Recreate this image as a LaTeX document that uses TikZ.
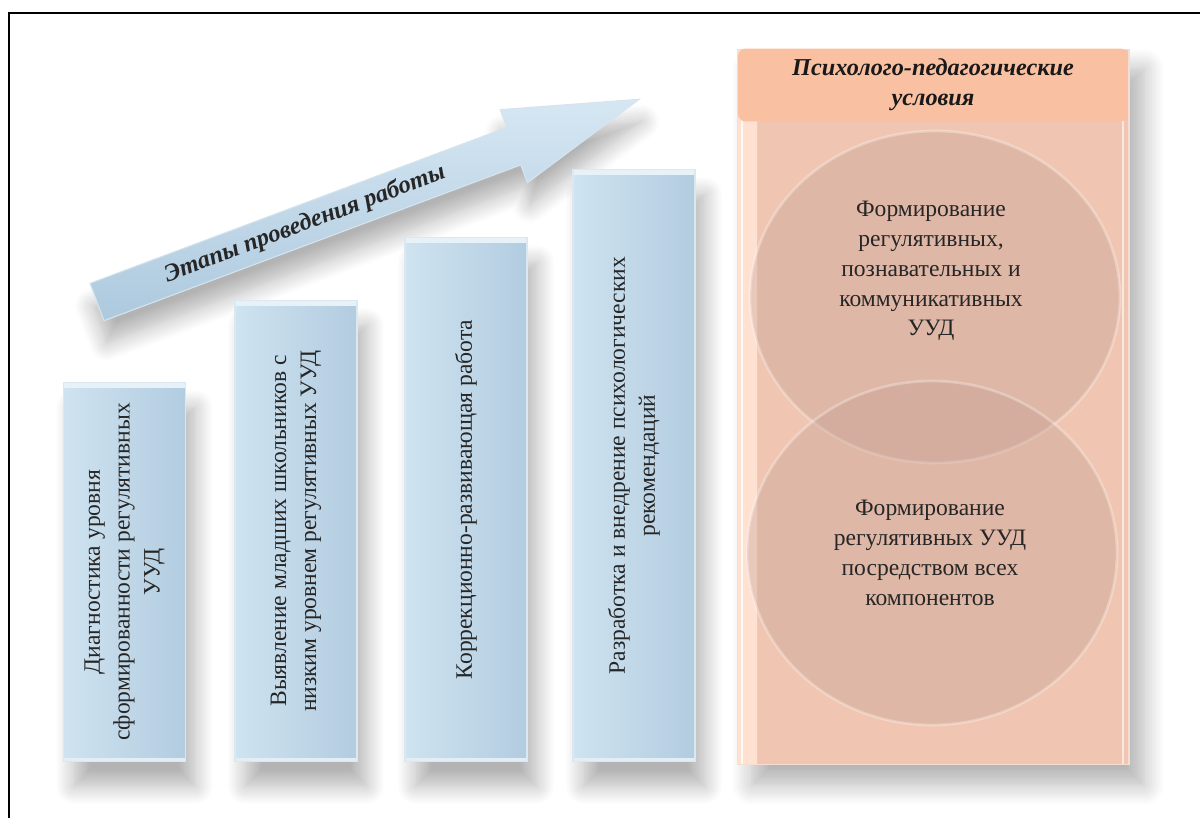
\documentclass[tikz,border=0pt]{standalone}
\usepackage{fontspec}
\setmainfont{Liberation Serif}
\usetikzlibrary{shapes.geometric,shadows.blur}

\definecolor{barlight}{HTML}{CFE3F0}
\definecolor{bardark}{HTML}{B2CCE0}
\definecolor{arrowlight}{HTML}{D6E7F3}
\definecolor{arrowdark}{HTML}{ADC9DE}
\definecolor{panellight}{HTML}{FFE2D2}
\definecolor{paneldark}{HTML}{F0C6B2}
\definecolor{headfill}{HTML}{F9C0A2}
\definecolor{circfill}{HTML}{C29E92}

\tikzset{
	stagebar/.style={draw=white!55!bardark, line width=0.6pt, left color=barlight, right color=bardark, minimum width=2.44cm, anchor=south,
		path picture={\fill[barlight!50!white] (path picture bounding box.north west) rectangle ([yshift=-3pt]path picture bounding box.north east);
			\fill[barlight!60!white] (path picture bounding box.south west) rectangle ([yshift=2pt]path picture bounding box.south east);},
		blur shadow={shadow xshift=0.2cm, shadow yshift=-0.5cm, shadow blur radius=0.35cm, shadow blur steps=12, shadow opacity=30}},
	stagetext/.style={rotate=90, align=center, font=\fontsize{13.4}{17}\selectfont, text=black!85},
	arrowtext/.style={font=\fontsize{14}{16}\selectfont\bfseries\itshape, text=black!85},
	panelbox/.style={draw=white!40!paneldark, line width=0.6pt, fill=paneldark, minimum width=7.84cm, minimum height=14.32cm,
		path picture={\shade[left color=panellight, right color=paneldark] (path picture bounding box.north west) rectangle ([xshift=0.4cm]path picture bounding box.south west);
			\draw[white, opacity=0.8, line width=1pt] ([xshift=0.1cm]path picture bounding box.north west) -- ([xshift=0.1cm]path picture bounding box.south west);
			\draw[white, opacity=0.6, line width=1pt] ([xshift=-0.12cm]path picture bounding box.north east) -- ([xshift=-0.12cm]path picture bounding box.south east);},
		blur shadow={shadow xshift=0.3cm, shadow yshift=-0.4cm, shadow blur radius=0.4cm, shadow blur steps=12, shadow opacity=30}},
	headbox/.style={fill=headfill, rounded corners=0.15cm, minimum width=7.8cm, minimum height=1.46cm, align=center, font=\fontsize{13.8}{17}\selectfont\bfseries\itshape, text=black!90},
	condcirc/.style={ellipse, fill=circfill, fill opacity=0.36, draw=white, draw opacity=0.3, line width=1.5pt},
	condtext/.style={align=center, font=\fontsize{13.4}{17}\selectfont, text=black!85}
}

\begin{document}
\begin{tikzpicture}[x=0.02cm, y=-0.02cm]
	\useasboundingbox (0,0) rectangle (1200,818);
	\draw [line width=1.7pt] (9,818) -- (9,13) -- (1200,13);
	\begin{scope}[shift={(97,302)}, rotate=20.5]
		\draw [draw=white!50!arrowdark, line width=0.6pt, top color=arrowlight, bottom color=arrowdark, blur shadow={shadow xshift=0.05cm, shadow yshift=-0.45cm, shadow blur radius=0.35cm, shadow blur steps=12, shadow opacity=30}] (0,-20) -- (445,-20) -- (445,-39) -- (579,0) -- (445,39) -- (445,20) -- (0,20) -- cycle;
		\node [arrowtext, rotate=20.5] (stages) at (222,0) {Этапы проведения работы};
	\end{scope}
	\node [stagebar, minimum height=7.58cm] (bar1) at (124.5,762) {};
	\node [stagebar, minimum height=9.22cm] (bar2) at (296,762) {};
	\node [stagebar, minimum height=10.48cm] (bar3) at (466,762) {};
	\node [stagebar, minimum height=11.84cm] (bar4) at (634,762) {};
	\node [stagetext] (diag) at (bar1.center) {Диагностика  уровня\\сформированности регулятивных\\УУД};
	\node [stagetext] (reveal) at (bar2.center) {Выявление младших школьников с\\низким уровнем регулятивных УУД};
	\node [stagetext] (correct) at (bar3.center) {Коррекционно-развивающая  работа};
	\node [stagetext] (recom) at (bar4.center) {Разработка и внедрение психологических\\рекомендаций};
	\node [panelbox] (cond) at (933,407) {};
	\node [headbox] (condhead) at (933,85) {Психолого-педагогические\\условия};
	\node [condcirc, minimum width=7.4cm, minimum height=6.64cm] (circ1) at (935,297) {};
	\node [condcirc, minimum width=7.4cm, minimum height=6.88cm] (circ2) at (932,553) {};
	\node [condtext] (form1) at (931,271) {Формирование\\регулятивных,\\познавательных и\\коммуникативных\\УУД};
	\node [condtext] (form2) at (930,553) {Формирование\\регулятивных УУД\\посредством всех\\компонентов};
\end{tikzpicture}
\end{document}
